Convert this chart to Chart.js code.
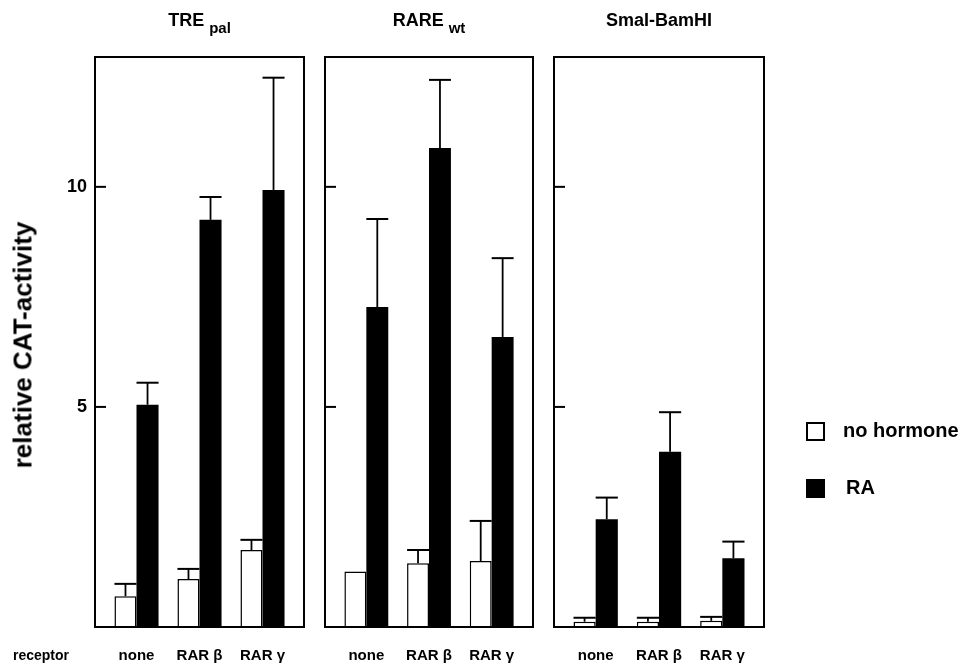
<!DOCTYPE html>
<html>
<head>
<meta charset="utf-8">
<script src="https://cdn.jsdelivr.net/npm/chart.js@4.4.1/dist/chart.umd.min.js"></script>
<style>
  html, body { margin: 0; padding: 0; background: #fff; }
  #wrap { position: relative; width: 966px; height: 666px; overflow: hidden; background: #fff; font-family: "Liberation Sans", Arial, sans-serif; }
  canvas { position: absolute; left: 0; top: 0; }
  .txt { position: absolute; font-weight: bold; color: #000; white-space: nowrap; }
  #ytitle { left: 23px; top: 345px; font-size: 26px; transform: translate(-50%, -50%) rotate(-90deg); }
  #receptor { left: 13px; top: 647px; font-size: 14px; }
  .sw { position: absolute; width: 19px; height: 19px; box-sizing: border-box; }
</style>
</head>
<body>
<div id="wrap">
  <canvas id="c1" width="966" height="666"></canvas>
  <canvas id="c2" width="966" height="666"></canvas>
  <canvas id="c3" width="966" height="666"></canvas>
  <div id="ytitle" class="txt">relative CAT-activity</div>
  <div id="receptor" class="txt">receptor</div>
  <div class="sw" style="left:806px; top:422px; border:2px solid #000; background:#fff;"></div>
  <div class="txt" style="left:843px; top:419px; font-size:20px;">no hormone</div>
  <div class="sw" style="left:806px; top:479px; background:#000;"></div>
  <div class="txt" style="left:846px; top:476px; font-size:20px;">RA</div>
</div>
<script>
// ---- data ----
const categories = ["none", "RAR β", "RAR γ"];
const yTicks = [5, 10];
const seriesNames = ["no hormone", "RA"];

const panelTitles = ["TRE", "RARE", "SmaI-BamHI"];
const panelSubs = ["pal", "wt", ""];

const tre_noHormone = [0.70, 1.09, 1.75];
const tre_noHormoneErr = [0.28, 0.23, 0.23];
const tre_RA = [5.05, 9.25, 9.93];
const tre_RAErr = [0.50, 0.52, 2.55];

const rare_noHormone = [1.26, 1.45, 1.50];
const rare_noHormoneErr = [0, 0.30, 0.91];
const rare_RA = [7.27, 10.88, 6.59];
const rare_RAErr = [2.00, 1.55, 1.79];

const sma_noHormone = [0.12, 0.12, 0.14];
const sma_noHormoneErr = [0.09, 0.09, 0.09];
const sma_RA = [2.45, 3.98, 1.56];
const sma_RAErr = [0.49, 0.90, 0.38];

// ---- layout ----
const W = 966, H = 666;
const FONT = '"Liberation Sans", Arial, sans-serif';
const panels = [
  { id: "c1", left: 105, right: 294, title: panelTitles[0], sub: panelSubs[0], noH: tre_noHormone, noHErr: tre_noHormoneErr, ra: tre_RA, raErr: tre_RAErr, tickLabels: true },
  { id: "c2", left: 335, right: 523, title: panelTitles[1], sub: panelSubs[1], noH: rare_noHormone, noHErr: rare_noHormoneErr, ra: rare_RA, raErr: rare_RAErr, tickLabels: false },
  { id: "c3", left: 564, right: 754, title: panelTitles[2], sub: panelSubs[2], noH: sma_noHormone, noHErr: sma_noHormoneErr, ra: sma_RA, raErr: sma_RAErr, tickLabels: false }
];
const TOP = 57, BOTTOM = 627, INSET = 10;

const panelPlugin = {
  id: "panelDecor",
  afterDatasetsDraw(chart, args, opts) {
    const ctx = chart.ctx;
    const ys = chart.scales.y, xs = chart.scales.x;
    const ca = chart.chartArea;
    ctx.save();
    // error bars
    chart.data.datasets.forEach((ds, di) => {
      const meta = chart.getDatasetMeta(di);
      meta.data.forEach((el, i) => {
        const e = ds.errors[i];
        if (!e) return;
        const yTop = ys.getPixelForValue(ds.data[i] + e);
        const w = el.width;
        ctx.strokeStyle = "#000";
        ctx.lineWidth = 1.8;
        ctx.beginPath();
        ctx.moveTo(el.x, el.y);
        ctx.lineTo(el.x, yTop);
        ctx.stroke();
        ctx.lineWidth = 2;
        ctx.beginPath();
        ctx.moveTo(el.x - w / 2, yTop);
        ctx.lineTo(el.x + w / 2, yTop);
        ctx.stroke();
      });
    });
    // box
    const bl = ca.left - INSET, br = ca.right + INSET;
    ctx.strokeStyle = "#000";
    ctx.lineWidth = 2;
    ctx.strokeRect(bl, ca.top, br - bl, ca.bottom - ca.top);
    // ticks
    ctx.font = "bold 18px " + FONT;
    ctx.fillStyle = "#000";
    ctx.textAlign = "right";
    ctx.textBaseline = "middle";
    yTicks.forEach(t => {
      const y = ys.getPixelForValue(t);
      ctx.beginPath();
      ctx.moveTo(bl, y);
      ctx.lineTo(bl + 11, y);
      ctx.stroke();
      if (opts.tickLabels) ctx.fillText(String(t), bl - 8, y);
    });
    // category labels
    ctx.font = "bold 15px " + FONT;
    ctx.textAlign = "center";
    chart.data.labels.forEach((lab, i) => {
      ctx.fillText(lab, xs.getPixelForValue(i), 656);
    });
    // title with subscript
    const cx = (bl + br) / 2;
    ctx.font = "bold 18px " + FONT;
    const tw = ctx.measureText(opts.title).width;
    ctx.font = "bold 15px " + FONT;
    const sw = opts.sub ? ctx.measureText(opts.sub).width + 5 : 0;
    const sx = cx - (tw + sw) / 2;
    ctx.textAlign = "left";
    ctx.textBaseline = "alphabetic";
    ctx.font = "bold 18px " + FONT;
    ctx.fillText(opts.title, sx, 26);
    if (opts.sub) {
      ctx.font = "bold 15px " + FONT;
      ctx.fillText(opts.sub, sx + tw + 5, 33);
    }
    ctx.restore();
  }
};

panels.forEach(p => {
  new Chart(document.getElementById(p.id), {
    type: "bar",
    data: {
      labels: categories,
      datasets: [
        { label: seriesNames[0], data: p.noH, errors: p.noHErr, backgroundColor: "#fff", borderColor: "#000", borderWidth: 1.5, borderSkipped: "bottom" },
        { label: seriesNames[1], data: p.ra, errors: p.raErr, backgroundColor: "#000", borderColor: "#000", borderWidth: 0 }
      ]
    },
    options: {
      responsive: false,
      animation: false,
      devicePixelRatio: 1,
      layout: { padding: { left: p.left, right: W - p.right, top: TOP, bottom: H - BOTTOM } },
      datasets: { bar: { categoryPercentage: 0.7, barPercentage: 1.0 } },
      scales: {
        x: { display: false, offset: true },
        y: { display: false, min: 0, max: 12.95 }
      },
      plugins: {
        legend: { display: false },
        tooltip: { enabled: false },
        panelDecor: { tickLabels: p.tickLabels, title: p.title, sub: p.sub }
      }
    },
    plugins: [panelPlugin]
  });
});
</script>
</body>
</html>
